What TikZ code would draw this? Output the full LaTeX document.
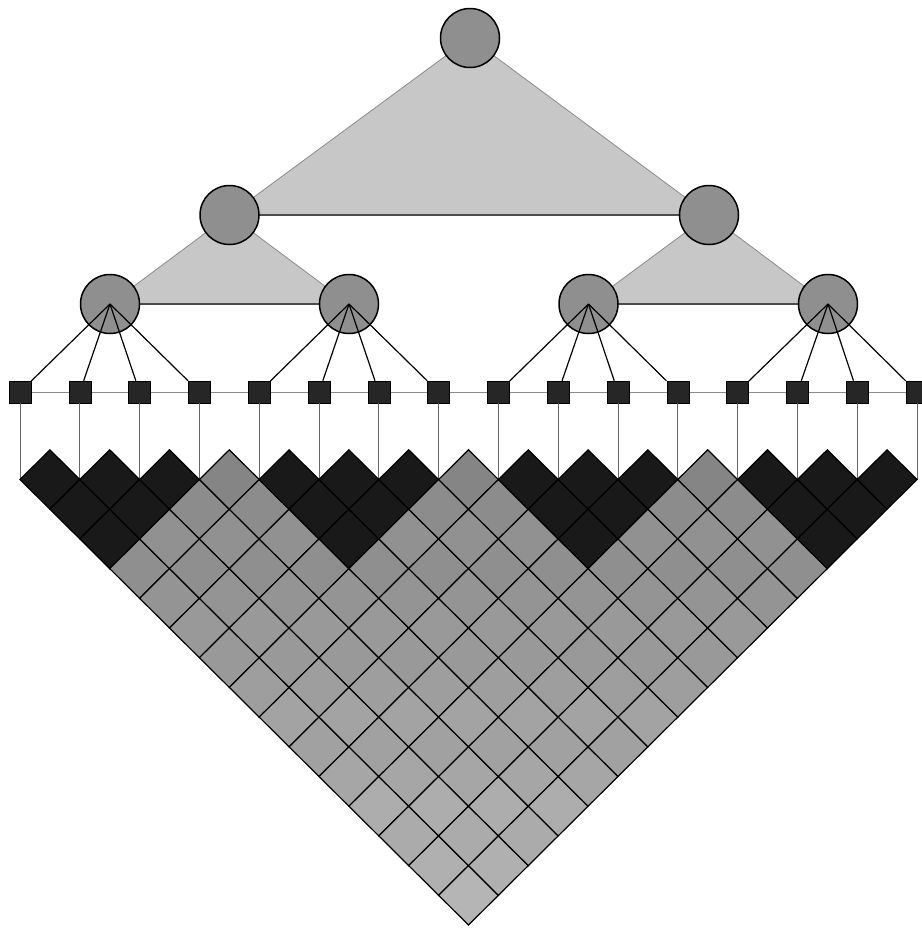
\documentclass[tikz,border=0pt]{standalone}
\usetikzlibrary{calc}
\definecolor{trifill}{gray}{0.78}
\definecolor{circfill}{gray}{0.56}
\pgfdeclarelayer{tri}
\pgfdeclarelayer{circ}
\pgfdeclarelayer{links}
\pgfsetlayers{tri,circ,links,main}
\tikzset{
  treenode/.style={circle, draw=black, line width=1.5pt, fill=circfill, minimum size=59pt, inner sep=0pt},
  snpbox/.style={rectangle, draw=black, line width=0.6pt, fill=black!85, minimum size=22pt, inner sep=0pt},
  hap/.style={fill=trifill, draw=black!45, line width=0.8pt},
  hapbase/.style={draw=black!70, line width=1.1pt},
  link/.style={draw=black, line width=1.2pt},
  axisline/.style={draw=black!45, line width=0.8pt},
  drop/.style={draw=black!60, line width=0.9pt},
  cell/.style={draw=black, line width=1.2pt},
}
\begin{document}
\begin{tikzpicture}[x=1pt,y=-1pt]
\useasboundingbox (0,0) rectangle (921,929);
\def\sx{59.8}
\def\xo{20}
\def\yv{479.5}
\def\hh{29.7}
\def\hw{29.9}
\def\ysq{392}
% tree nodes
\begin{pgfonlayer}{circ}
  \node[treenode] (root) at (470,38) {};
  \node[treenode] (l2a) at (229.5,215) {};
  \node[treenode] (l2b) at (709,215) {};
  \node[treenode] (l3a) at (110,304) {};
  \node[treenode] (l3b) at (349,304) {};
  \node[treenode] (l3c) at (588.5,304) {};
  \node[treenode] (l3d) at (828,304) {};
\end{pgfonlayer}
% haplotype triangles
\begin{pgfonlayer}{tri}
  \filldraw[hap] (root.center) -- (l2a.center) -- (l2b.center) -- cycle;
  \draw[hapbase] (l2a.center) -- (l2b.center);
  \filldraw[hap] (l2a.center) -- (l3a.center) -- (l3b.center) -- cycle;
  \draw[hapbase] (l3a.center) -- (l3b.center);
  \filldraw[hap] (l2b.center) -- (l3c.center) -- (l3d.center) -- cycle;
  \draw[hapbase] (l3c.center) -- (l3d.center);
\end{pgfonlayer}
% SNP squares
\foreach \k in {0,...,15}{
  \node[snpbox] (s\k) at ({\xo+\sx*\k},\ysq) {};
  \coordinate (v\k) at ({\xo+\sx*\k},\yv);
}
% links
\begin{pgfonlayer}{links}
  \draw[axisline] (s0) -- (s15);
  \foreach \k in {0,...,3}{\draw[link] (l3a.center) -- (s\k);}
  \foreach \k in {4,...,7}{\draw[link] (l3b.center) -- (s\k);}
  \foreach \k in {8,...,11}{\draw[link] (l3c.center) -- (s\k);}
  \foreach \k in {12,...,15}{\draw[link] (l3d.center) -- (s\k);}
\end{pgfonlayer}
% drops
\foreach \k in {0,...,15}{\draw[drop] (s\k.south) -- (v\k);}
% LD matrix
\foreach \i in {0,...,14}{
  \pgfmathtruncatemacro\js{\i+1}
  \foreach \j in {\js,...,15}{
    \pgfmathsetmacro\cx{\xo+\sx*(\i+\j)/2}
    \pgfmathsetmacro\cy{\yv+\hh*(\j-\i-1)}
    \pgfmathtruncatemacro\bi{int(\i/4)}
    \pgfmathtruncatemacro\bj{int(\j/4)}
    \ifnum\bi=\bj
      \def\cellg{90}
    \else
      \pgfmathtruncatemacro\cellg{47-1.2*(\j-\i-1)+mod(\i*7+\j*11,3)-1}
    \fi
    \filldraw[cell, fill=black!\cellg] (\cx,\cy-\hh) -- (\cx+\hw,\cy) -- (\cx,\cy+\hh) -- (\cx-\hw,\cy) -- cycle;
  }
}
\end{tikzpicture}
\end{document}
